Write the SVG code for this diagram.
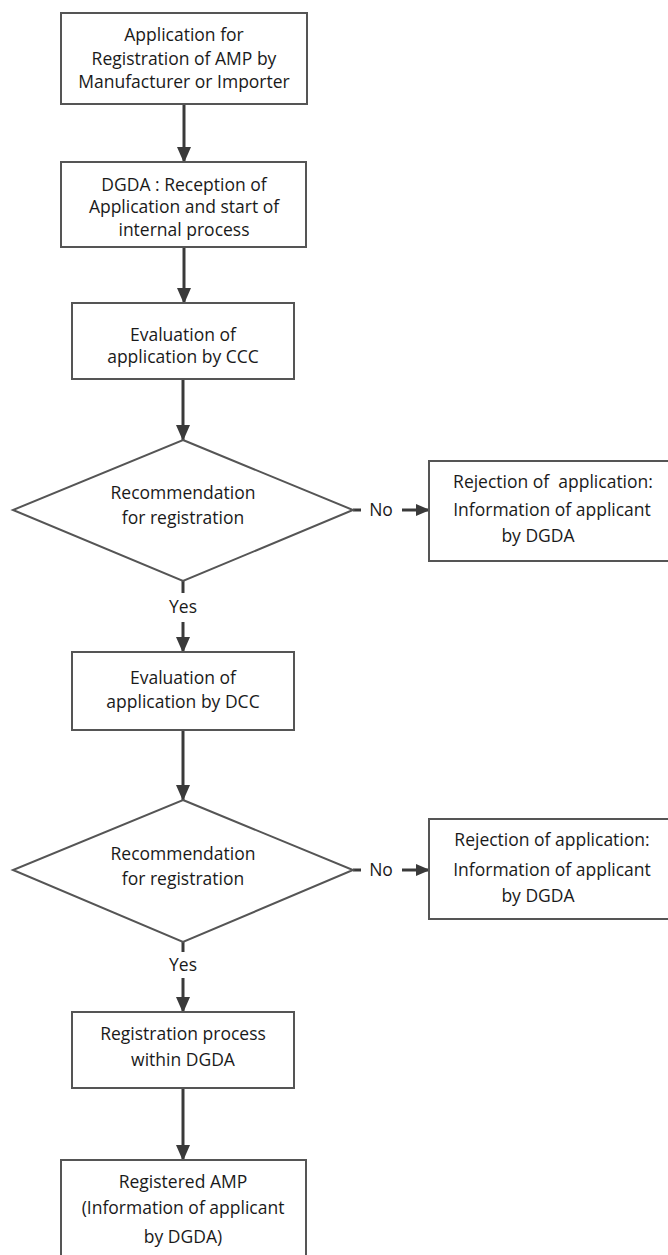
<svg xmlns="http://www.w3.org/2000/svg" width="668" height="1255" viewBox="0 0 668 1255">
<style>
.box{fill:#fff;stroke:#555;stroke-width:2}
.t{font-family:"Open Sans","Liberation Sans",sans-serif;font-size:17.5px;fill:#1a1a1a;text-anchor:middle}
.c{stroke:#3a3a3a;stroke-width:3;fill:none}
</style>
<defs>
<marker id="ah" markerUnits="userSpaceOnUse" markerWidth="16" markerHeight="16" viewBox="0 0 16 16" refX="15" refY="8" orient="auto">
<path d="M0,1 L16,8 L0,15 Z" fill="#3a3a3a"/>
</marker>
<marker id="ahs" markerUnits="userSpaceOnUse" markerWidth="14" markerHeight="14" viewBox="0 0 14 14" refX="13" refY="7" orient="auto">
<path d="M0,1 L14,7 L0,13 Z" fill="#3a3a3a"/>
</marker>
</defs>
<rect width="668" height="1255" fill="#fff"/>
<g id="connectors">
<line class="c" x1="184" y1="104" x2="184" y2="162" marker-end="url(#ah)"/>
<line class="c" x1="184" y1="247" x2="184" y2="303" marker-end="url(#ah)"/>
<line class="c" x1="183" y1="379" x2="183" y2="440" marker-end="url(#ah)"/>
<line class="c" x1="183" y1="581" x2="183" y2="593"/>
<line class="c" x1="183" y1="622" x2="183" y2="652" marker-end="url(#ah)"/>
<line class="c" x1="183" y1="730" x2="183" y2="800" marker-end="url(#ah)"/>
<line class="c" x1="183" y1="942" x2="183" y2="952"/>
<line class="c" x1="183" y1="978" x2="183" y2="1012" marker-end="url(#ah)"/>
<line class="c" x1="183" y1="1088" x2="183" y2="1160" marker-end="url(#ah)"/>
<line class="c" x1="353" y1="510" x2="361" y2="510"/>
<line class="c" x1="402" y1="510" x2="429" y2="510" marker-end="url(#ahs)"/>
<line class="c" x1="353" y1="870" x2="361" y2="870"/>
<line class="c" x1="402" y1="870" x2="429" y2="870" marker-end="url(#ahs)"/>
<text class="t" x="183" y="613">Yes</text>
<text class="t" x="183" y="971">Yes</text>
<text class="t" x="381" y="516">No</text>
<text class="t" x="381" y="876">No</text>
</g>
<g id="n1">
<rect class="box" x="61" y="13" width="246" height="91"/>
<text class="t" x="184" y="41">Application for</text>
<text class="t" x="184" y="65">Registration of AMP by</text>
<text class="t" x="184" y="88">Manufacturer or Importer</text>
</g>
<g id="n2">
<rect class="box" x="61" y="162" width="245" height="85"/>
<text class="t" x="184" y="191">DGDA : Reception of</text>
<text class="t" x="184" y="213">Application and start of</text>
<text class="t" x="184" y="236">internal process</text>
</g>
<g id="n3">
<rect class="box" x="72" y="303" width="222" height="76"/>
<text class="t" x="183" y="341">Evaluation of</text>
<text class="t" x="183" y="363">application by CCC</text>
</g>
<g id="d1">
<polygon class="box" points="183,440 353,510 183,581 13,510"/>
<text class="t" x="183" y="499">Recommendation</text>
<text class="t" x="183" y="524">for registration</text>
</g>
<g id="r1">
<rect class="box" x="429" y="461" width="240" height="100"/>
<text class="t" x="553" y="488" xml:space="preserve">Rejection of  application:</text>
<text class="t" x="552" y="516">Information of applicant</text>
<text class="t" x="538" y="542">by DGDA</text>
</g>
<g id="n4">
<rect class="box" x="72" y="652" width="222" height="78"/>
<text class="t" x="183" y="684">Evaluation of</text>
<text class="t" x="183" y="708">application by DCC</text>
</g>
<g id="d2">
<polygon class="box" points="183,800 353,870 183,942 13,870"/>
<text class="t" x="183" y="860">Recommendation</text>
<text class="t" x="183" y="885">for registration</text>
</g>
<g id="r2">
<rect class="box" x="429" y="819" width="240" height="100"/>
<text class="t" x="552" y="846">Rejection of application:</text>
<text class="t" x="552" y="876">Information of applicant</text>
<text class="t" x="538" y="902">by DGDA</text>
</g>
<g id="n5">
<rect class="box" x="72" y="1012" width="222" height="76"/>
<text class="t" x="183" y="1040">Registration process</text>
<text class="t" x="183" y="1066">within DGDA</text>
</g>
<g id="n6">
<rect class="box" x="61" y="1160" width="245" height="110"/>
<text class="t" x="183" y="1188">Registered AMP</text>
<text class="t" x="183" y="1214">(Information of applicant</text>
<text class="t" x="183" y="1243">by DGDA)</text>
</g>
</svg>
